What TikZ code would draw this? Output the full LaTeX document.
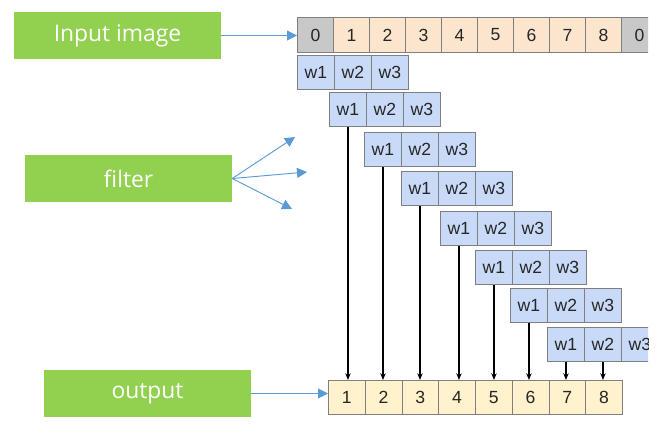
\documentclass[tikz,border=0pt]{standalone}
\usepackage{fontspec}
\setmainfont{Liberation Sans}
\newfontfamily\labelfont{Open Sans}
\usetikzlibrary{arrows.meta}

\definecolor{labelgreen}{HTML}{92D050}
\definecolor{inpeach}{HTML}{FCE5CD}
\definecolor{padgray}{HTML}{C8C8C8}
\definecolor{wblue}{HTML}{C9DAF8}
\definecolor{outyellow}{HTML}{FFF2CC}
\definecolor{cellborder}{HTML}{7F7F7F}
\definecolor{pointblue}{HTML}{5B9BD5}

\tikzset{
  cell/.style={draw=cellborder, line width=0.8pt, inner sep=0pt, anchor=north west,
    text=black!85, font=\fontsize{15}{17}\selectfont},
  incell/.style={cell, fill=inpeach, minimum width=1.08cm, minimum height=1.05cm},
  padcell/.style={incell, fill=padgray},
  wcell/.style={cell, fill=wblue, minimum width=1.11cm, minimum height=1.02cm},
  outcell/.style={cell, fill=outyellow, minimum width=1.1025cm, minimum height=1.02cm},
  tag/.style={fill=labelgreen, text=white, minimum width=6.21cm, minimum height=1.41cm,
    inner sep=0pt, font=\labelfont\fontsize{19.5}{22}\selectfont},
  pointer/.style={draw=pointblue, line width=0.8pt, -{Triangle[length=3mm,width=3mm]}},
  flow/.style={draw=black, line width=0.9pt, -{Stealth[length=2mm,width=1.6mm]}}
}

\begin{document}
\begin{tikzpicture}[x=0.03cm, y=-0.03cm]
	\useasboundingbox (0,0) rectangle (668,436);
	\clip (0,0) rectangle (648,436);
	% input row with zero padding
	\node[padcell] (in0) at (297,17) {0};
	\foreach \v in {1,...,8}
	  \node[incell] (in\v) at ({297+36*\v},17) {\v};
	\node[padcell] (in9) at (621,17) {0};
	% sliding filter
	\foreach \x/\y [count=\r] in {297/55, 329/92, 364/132, 401/171, 440/211, 475/250, 510/288, 547/327} {
	  \foreach \w [count=\c] in {w1,w2,w3}
	    \node[wcell] (f\r-\c) at ({\x+37*(\c-1)},\y) {\w};
	}
	% output row
	\foreach \v in {1,...,8}
	  \node[outcell] (out\v) at ({328+36.75*(\v-1)},380) {\v};
	\foreach \r in {2,...,8} {
	  \pgfmathtruncatemacro\o{\r-1}
	  \draw[flow] (f\r-1.south) -- (f\r-1.south |- out\o.north);
	}
	\draw[flow] (f8-2.south) -- (f8-2.south |- out8.north);
	% labels
	\node[tag] (linput) at (117.5,35.5) {Input image};
	\node[tag] (lfilter) at (128.5,178.5) {filter};
	\node[tag] (loutput) at (147.5,393.5) {output};
	\coordinate (ft1) at (295,137);
	\coordinate (ft2) at (307,172);
	\coordinate (ft3) at (292,209);
	\draw[pointer] (linput.east) -- (linput.east -| in0.west);
	\foreach \t in {ft1,ft2,ft3}
	  \draw[pointer] (lfilter.east) -- (\t);
	\draw[pointer] (loutput.east) -- (loutput.east -| out1.west);
\end{tikzpicture}
\end{document}
